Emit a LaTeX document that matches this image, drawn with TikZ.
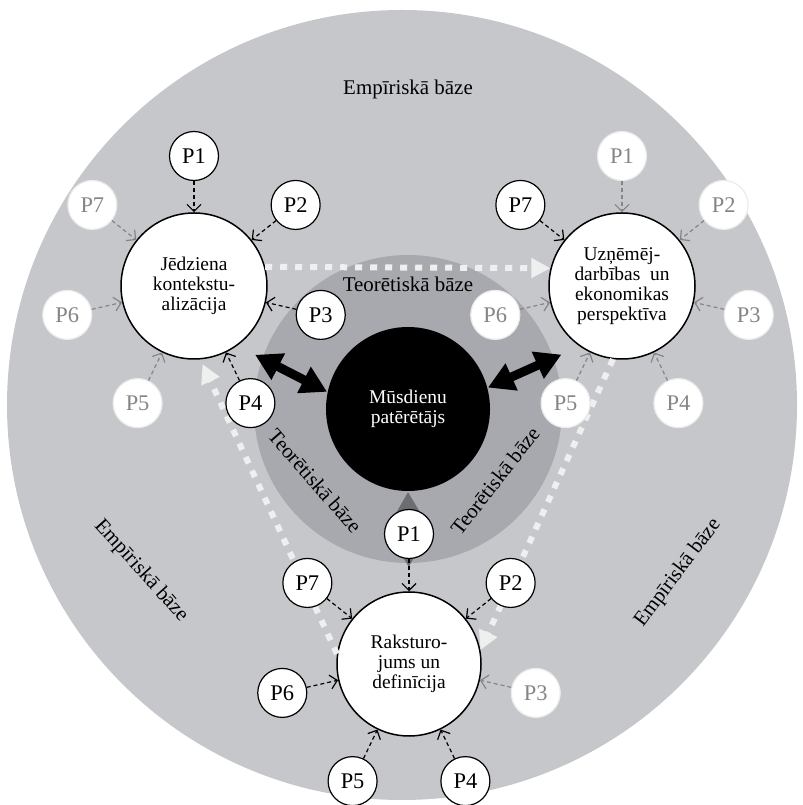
\documentclass[tikz,border=0pt]{standalone}
\usepackage{fontspec}
\setmainfont{Liberation Serif}
\usetikzlibrary{arrows.meta,calc}

\definecolor{empgray}{HTML}{C6C7CB}
\definecolor{teogray}{HTML}{A8A9AE}
\definecolor{fadegray}{HTML}{858585}
\definecolor{linkgray}{HTML}{6C6D71}
\definecolor{dotwhite}{HTML}{EFEFEF}

\begin{document}
\begin{tikzpicture}[
  x=1bp, y=1bp,
  bignode/.style={circle, draw, line width=1.5bp, fill=white, minimum size=146bp,
    inner sep=0pt, align=center, font=\fontsize{19.5}{20}\selectfont},
  satact/.style={circle, draw, line width=1.2bp, fill=white, minimum size=49bp,
    inner sep=0pt, font=\fontsize{22.5}{22.5}\selectfont},
  satfad/.style={satact, draw=black!8, text=fadegray},
  arract/.style={dash pattern=on 4bp off 3bp, line width=1.2bp,
    -{Straight Barb[length=7bp,width=14bp]}},
  arrfad/.style={arract, draw=fadegray},
  bigarr/.style={line width=9bp, shorten >=20bp,
    {Triangle[length=26bp,width=28bp]}-{Triangle[length=26bp,width=28bp]}},
  dotarr/.style={draw=dotwhite, line width=6bp, dash pattern=on 7bp off 8bp,
    -{Triangle[length=19bp,width=19bp]}},
  basetext/.style={font=\fontsize{21}{21}\selectfont}
]
  \useasboundingbox (0,0) rectangle (803,805);

  % rings
  \fill[empgray] (402,400) circle[radius=395];
  \fill[teogray] (408,396) circle[radius=154];

  % main circles
  \node[bignode, fill=black, draw=none, text=white, minimum size=164bp] (cons) at (408,396) {Mūsdienu\\patērētājs};
  \node[bignode] (jed) at (194,519) {Jēdziena\\kontekstu-\\alizācija};
  \node[bignode] (uzn) at (622,519) {Uzņēmēj-\\darbības\enspace un\\ekonomikas\\perspektīva};
  \node[bignode, minimum size=144bp] (rak) at (409,141) {Raksturo-\\jums un\\definīcija};

  % ring labels
  \node[basetext] (emptop) at (408,716) {Empīriskā bāze};
  \node[basetext, rotate=-48] (empleft) at (141,234) {Empīriskā bāze};
  \node[basetext, rotate=53] (empright) at (678,232) {Empīriskā bāze};
  \node[basetext] (teotop) at (408,521) {Teorētiskā bāze};
  \node[basetext, rotate=-49] (teoleft) at (315,324) {Teorētiskā bāze};
  \node[basetext, rotate=52] (teoright) at (495,324) {Teorētiskā bāze};

  % links to the consumer
  \draw[bigarr] (cons.168) -- (jed.-54);
  \draw[bigarr] (cons.15) -- (uzn.-125);
  \draw[bigarr, draw=linkgray, shorten >=24bp] (cons.-90) -- (rak.90);

  % cycle
  \draw[dotarr] (jed.15) -- (uzn.166);
  \draw[dotarr] (uzn.-97) -- (rak.11);
  \draw[dotarr, shorten >=5bp] (rak.172) -- (jed.-85);

  % principles
  \foreach \k/\st in {1/act,2/act,3/act,4/act,5/fad,6/fad,7/fad} {
    \node[sat\st] (jed-p\k) at ($(jed)+({90-(\k-1)*360/7}:130)$) {P\k};
    \path (jed-p\k) edge[arr\st] (jed);
  }
  \foreach \k/\st in {1/fad,2/fad,3/fad,4/fad,5/fad,6/fad,7/act} {
    \node[sat\st] (uzn-p\k) at ($(uzn)+({90-(\k-1)*360/7}:130)$) {P\k};
    \path (uzn-p\k) edge[arr\st] (uzn);
  }
  \foreach \k/\st in {1/act,2/act,3/fad,4/act,5/act,6/act,7/act} {
    \node[sat\st] (rak-p\k) at ($(rak)+({90-(\k-1)*360/7}:130)$) {P\k};
    \path (rak-p\k) edge[arr\st] (rak);
  }
\end{tikzpicture}
\end{document}
